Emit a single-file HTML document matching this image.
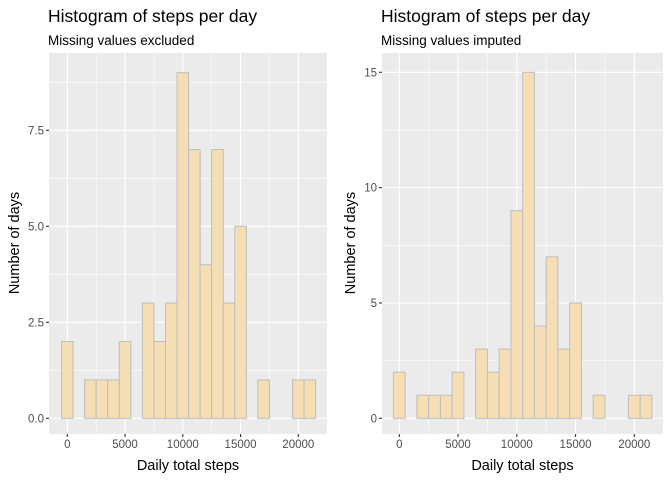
<!DOCTYPE html>
<html><head><meta charset="utf-8"><style>
body{margin:0;background:#fff;}
svg{display:block;font-family:"Liberation Sans",Arial,sans-serif;}
</style></head><body>
<svg id="c" width="672" height="480"></svg>
<script>
const binCenters = [0,1000,2000,3000,4000,5000,6000,7000,8000,9000,10000,11000,12000,13000,14000,15000,16000,17000,18000,19000,20000,21000];
const countsExcluded = [2,0,1,1,1,2,0,3,2,3,9,7,4,7,3,5,0,1,0,0,1,1];
const countsImputed = [2,0,1,1,1,2,0,3,2,3,9,15,4,7,3,5,0,1,0,0,1,1];
const xTicks = [0,5000,10000,15000,20000];
const yTicksLeft = [0,2.5,5,7.5];
const yTickLabelsLeft = ["0.0","2.5","5.0","7.5"];
const yTicksRight = [0,5,10,15];
const yTickLabelsRight = ["0","5","10","15"];
const NS="http://www.w3.org/2000/svg";
const svg=document.getElementById('c');
function mk(tag,attrs,parent,text){const e=document.createElementNS(NS,tag);for(const k in attrs)e.setAttribute(k,attrs[k]);if(text!==undefined)e.textContent=text;(parent||svg).appendChild(e);return e;}
function panel(cfg){
  const g=mk('g',{});
  
  
  const xs=v=>cfg.x0+(v-0)*(cfg.x20-cfg.x0)/20000;
  const ys=v=>cfg.y0-v*cfg.yPer;
  const bg=mk('rect',{x:cfg.L,y:53,width:cfg.R-cfg.L,height:381,fill:'#ebebeb'},g);
  
  
  // minor grid
  for(let i=0;i<xTicks.length;i++){
    const m=xTicks[i]+2500;
    if(xs(m)<cfg.R) mk('line',{x1:xs(m),x2:xs(m),y1:53,y2:434,stroke:'#fff','stroke-width':0.55},g);
    if(i===0 && xs(-2500)>cfg.L) mk('line',{x1:xs(-2500),x2:xs(-2500),y1:53,y2:434,stroke:'#fff','stroke-width':0.55},g);
  }
  for(let i=0;i<cfg.yt.length;i++){
    const step=cfg.yt[1]-cfg.yt[0];
    const m=cfg.yt[i]+step/2;
    if(ys(m)>53) mk('line',{x1:cfg.L,x2:cfg.R,y1:ys(m),y2:ys(m),stroke:'#fff','stroke-width':0.55},g);
  }
  for(const t of xTicks){
    mk('line',{x1:xs(t),x2:xs(t),y1:53,y2:434,stroke:'#fff','stroke-width':1.1},g);
    mk('line',{x1:xs(t),x2:xs(t),y1:434,y2:437,stroke:'#333','stroke-width':1.1},g);
    const tl=mk('text',{x:xs(t),y:448,'text-anchor':'middle','font-size':11.5,fill:'#4d4d4d'},g,String(t));
    
    
  }
  cfg.yt.forEach((t,i)=>{
    mk('line',{x1:cfg.L,x2:cfg.R,y1:ys(t),y2:ys(t),stroke:'#fff','stroke-width':1.1},g);
    mk('line',{x1:cfg.L-3,x2:cfg.L,y1:ys(t),y2:ys(t),stroke:'#333','stroke-width':1.1},g);
    const tl=mk('text',{x:cfg.L-5,y:ys(t)+4,'text-anchor':'end','font-size':11.5,fill:'#4d4d4d'},g,cfg.ytl[i]);
    
    
  });
  binCenters.forEach((c,i)=>{
    const v=cfg.data[i];
    const b=mk('rect',{x:xs(c-500),y:ys(v),width:xs(c+500)-xs(c-500),height:ys(0)-ys(v),fill:'#f5deb3',stroke:'#bebebe','stroke-width':1},g);
    
    
  });
  const t=mk('text',{x:cfg.L-1,y:22,'font-size':17.5,fill:'#000'},g,'Histogram of steps per day');
  
  
  const s=mk('text',{x:cfg.L-1,y:45,'font-size':13.5,fill:'#000'},g,cfg.sub);
  
  
  const xt=mk('text',{x:(cfg.L+cfg.R)/2,y:470,'text-anchor':'middle','font-size':14.5,fill:'#000'},g,'Daily total steps');
  
  
  const yx=cfg.yTitleX, yy=243;
  const yt=mk('text',{x:yx,y:yy,'text-anchor':'middle','font-size':14.5,fill:'#000',transform:`rotate(-90 ${yx} ${yy})`},g,'Number of days');
  
  
}
panel({name:'left-panel',L:49,R:327,x0:67.3,x20:298.3,y0:418.3,yPer:38.4,yt:yTicksLeft,ytl:yTickLabelsLeft,data:countsExcluded,sub:'Missing values excluded',yTitleX:19});
panel({name:'right-panel',L:382,R:663,x0:399.3,x20:634.3,y0:418.3,yPer:(418.3-72.3)/15,yt:yTicksRight,ytl:yTickLabelsRight,data:countsImputed,sub:'Missing values imputed',yTitleX:355});
</script>
</body></html>
